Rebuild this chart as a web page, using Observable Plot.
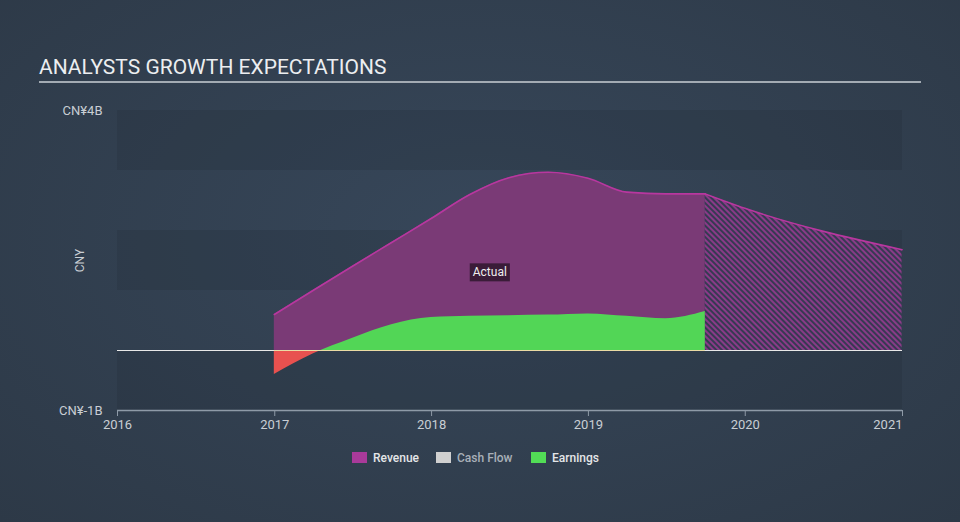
<!DOCTYPE html>
<html>
<head>
<meta charset="utf-8">
<script src="https://cdn.jsdelivr.net/npm/d3@7"></script>
<script src="https://cdn.jsdelivr.net/npm/@observablehq/plot@0.6"></script>
<style>
html, body { margin: 0; padding: 0; }
body {
  width: 960px; height: 522px; overflow: hidden;
  background: radial-gradient(ellipse at 50% 45%, #37475a 0%, #2d3947 100%);
  font-family: Roboto, "Noto Sans", sans-serif;
}
#wrap { position: relative; width: 960px; height: 522px; }
#title { position: absolute; left: 39px; top: 55px; font-size: 21px; color: #eceef0; white-space: nowrap; }
#titleRule { position: absolute; left: 39px; top: 81px; width: 882px; height: 2px; background: #a3abb3; }
#chart { position: absolute; left: 0; top: 0; }
.lg { position: absolute; top: 450px; height: 16px; line-height: 16px; font-size: 12px; font-weight: 500; color: #e4e6e8; white-space: nowrap; }
.sw { position: absolute; top: 2px; width: 15px; height: 11px; }
</style>
</head>
<body>
<div id="wrap">
  <div id="chart"></div>
  <div id="title">ANALYSTS GROWTH EXPECTATIONS</div>
  <div id="titleRule"></div>
  <div id="legend"></div>
</div>
<script>
// ---- data (CNY billions) ----
const revenueDates = ["2016-12-31","2017-03-31","2017-06-30","2017-09-30","2017-12-31","2018-03-31","2018-06-30","2018-09-30","2018-12-31","2019-03-31","2019-06-30","2019-09-30"];
const revenueValues = [0.60, 1.00, 1.40, 1.80, 2.20, 2.60, 2.88, 2.97, 2.87, 2.64, 2.61, 2.61];

const forecastDates = ["2019-09-30","2019-12-31","2020-12-31"];
const forecastValues = [2.61, 2.37, 1.68];

const earningsDates = ["2016-12-31","2017-03-31","2017-06-30","2017-09-30","2017-12-31","2018-03-31","2018-06-30","2018-09-30","2018-12-31","2019-03-31","2019-06-30","2019-09-30"];
const earningsValues = [-0.40, -0.06, 0.20, 0.43, 0.55, 0.57, 0.58, 0.59, 0.61, 0.57, 0.53, 0.65];

const xTickYears = ["2016","2017","2018","2019","2020","2021"];
const yTickValues = [-1, 4];
const yTickLabels = ["CN¥-1B", "CN¥4B"];
const darkBands = [[-1, 0], [1, 2], [3, 4]];

const legendNames = ["Revenue", "Cash Flow", "Earnings"];
const legendColors = ["#a93a9a", "#d0d0d0", "#52dd56"];

// ---- build tables ----
const rev = revenueDates.map((d, i) => ({date: new Date(d), value: revenueValues[i]}));
const fc = forecastDates.map((d, i) => ({date: new Date(d), value: forecastValues[i]}));
const earn = earningsDates.map((d, i) => ({date: new Date(d), value: earningsValues[i]}));
const bands = darkBands.map(([lo, hi]) => ({lo, hi}));
const xTicks = xTickYears.map(y => new Date(y + "-01-01"));
const actualMid = new Date((rev[0].date.getTime() + rev[rev.length - 1].date.getTime()) / 2);
const fmtYear = d3.utcFormat("%Y");

const plot = Plot.plot({
  width: 960,
  height: 522,
  marginLeft: 117,
  marginRight: 58,
  marginTop: 110,
  marginBottom: 112,
  style: {background: "transparent", color: "#c9ced4", fontFamily: "Roboto, sans-serif", fontSize: "12px"},
  x: {type: "utc", domain: [xTicks[0], xTicks[xTicks.length - 1]]},
  y: {domain: [-1, 4]},
  marks: [
    Plot.rect(bands, {y1: "lo", y2: "hi", fill: "#1c2633", fillOpacity: 0.2}),
    Plot.areaY(rev, {x: "date", y: "value", curve: "monotone-x", fill: "#7a3a76"}),
    Plot.areaY(fc, {x: "date", y: "value", curve: "monotone-x", fill: "url(#fcHatch)"}),
    Plot.areaY(earn, {x: "date", y: "value", curve: "monotone-x", fill: "url(#earnGrad)"}),
    Plot.lineY(rev, {x: "date", y: "value", curve: "monotone-x", stroke: "#b8379f", strokeWidth: 1.6}),
    Plot.lineY(fc, {x: "date", y: "value", curve: "monotone-x", stroke: "#b8379f", strokeWidth: 1.6}),
    Plot.ruleY([0], {stroke: "#e8e8e8", strokeWidth: 1}),
    Plot.ruleY([0], {x1: earn[0].date, x2: earn[earn.length - 1].date, stroke: "#eadba4", strokeWidth: 1}),
    Plot.ruleY([-1], {stroke: "#8e9aa7", strokeWidth: 1.5}),
    Plot.axisX({ticks: xTicks.slice(0, -1), tickFormat: fmtYear, tickSize: 6, tickPadding: 3, fontSize: 13, stroke: "#8e9aa7", fill: "#c9ced4", label: null}),
    Plot.axisX({ticks: xTicks.slice(-1), tickFormat: fmtYear, tickSize: 6, tickPadding: 3, fontSize: 13, textAnchor: "end", stroke: "#8e9aa7", fill: "#c9ced4", label: null}),
    Plot.axisY({ticks: yTickValues, tickFormat: d => yTickLabels[yTickValues.indexOf(d)], tickSize: 0, tickPadding: 15, fontSize: 13, fill: "#c9ced4", label: null}),
    Plot.text(["CNY"], {frameAnchor: "left", textAnchor: "middle", dx: -37, rotate: -90, fontSize: 12, fill: "#c9ced4", text: d => d}),
    Plot.text([actualMid], {x: d => d, text: () => "Actual", dy: 12, fill: "#eeeeee", className: "actual-label"})
  ]
});

document.getElementById("chart").appendChild(plot);

// defs: gradient split at the y-scale's zero, and forecast hatch
const y0 = plot.scale("y").apply(0);
const ns = "http://www.w3.org/2000/svg";
const defs = document.createElementNS(ns, "defs");
defs.innerHTML = `
  <linearGradient id="earnGrad" gradientUnits="userSpaceOnUse" x1="0" x2="0" y1="0" y2="522">
    <stop offset="${y0 / 522}" stop-color="#52d656"/>
    <stop offset="${y0 / 522}" stop-color="#e8514f"/>
  </linearGradient>
  <pattern id="fcHatch" patternUnits="userSpaceOnUse" width="4" height="4" patternTransform="rotate(-45)">
    <rect width="4" height="4" fill="#363a52"/>
    <line x1="1" y1="0" x2="1" y2="4" stroke="#8a3a88" stroke-width="2"/>
  </pattern>`;
plot.insertBefore(defs, plot.firstChild);

// box behind the "Actual" label
const txt = plot.querySelector("g.actual-label text");
if (txt) {
  const bb = txt.getBBox();
  const r = document.createElementNS(ns, "rect");
  r.setAttribute("x", bb.x - 3);
  r.setAttribute("y", bb.y - 2);
  r.setAttribute("width", bb.width + 6);
  r.setAttribute("height", bb.height + 4);
  r.setAttribute("fill", "#3a1c38");
  if (txt.getAttribute("transform")) r.setAttribute("transform", txt.getAttribute("transform"));
  txt.parentNode.insertBefore(r, txt);
}

// legend
const legendLefts = [352, 436, 531];
const legendTextColors = ["#e4e6e8", "#a9b0b8", "#e4e6e8"];
const lg = document.getElementById("legend");
legendNames.forEach((name, i) => {
  const el = document.createElement("div");
  el.className = "lg";
  el.style.left = legendLefts[i] + "px";
  el.style.paddingLeft = "21px";
  el.style.color = legendTextColors[i];
  el.innerHTML = `<span class="sw" style="left:0;background:${legendColors[i]}"></span>${name}`;
  lg.appendChild(el);
});
</script>
</body>
</html>
